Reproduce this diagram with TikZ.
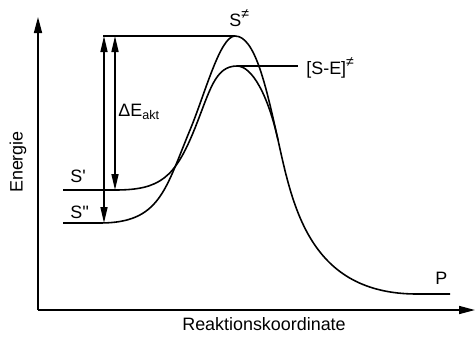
\documentclass[tikz,border=0pt]{standalone}
\usepackage{fontspec}
\setmainfont{Liberation Sans}
\usetikzlibrary{arrows.meta}

\newcommand{\trans}{\raisebox{0.75ex}{\fontsize{8}{8}\selectfont ≠}}

\begin{document}
\begin{tikzpicture}[
    x=0.02cm, y=0.02cm,
    every node/.style={font=\fontsize{10.2}{12}\selectfont},
    axis/.style={line width=0.9pt, -{Triangle[length=0.32cm, width=0.16cm]}},
    curve/.style={line width=0.9pt},
    dimline/.style={line width=0.9pt, {Triangle[length=0.32cm, width=0.14cm]}-{Triangle[length=0.32cm, width=0.14cm]}},
    lbl/.style={anchor=base west, inner sep=0pt},
]
    \useasboundingbox (0, 0) rectangle (475, 336);

    % axes
    \coordinate (origin) at (38, 26);
    \coordinate (ytop) at (38, 319);
    \coordinate (xend) at (475, 26);
    \draw[axis] (origin) -- (ytop);
    \draw[axis] (origin) -- (xend);
    \node[rotate=90] (energie) at (18, 174) {Energie};
    \node[anchor=base] (rk) at (264, 6) {Reaktionskoordinate};

    % levels
    \coordinate (s2left) at (63, 113);
    \coordinate (s2flat) at (100, 113);
    \coordinate (s1left) at (63, 146);
    \coordinate (s1flat) at (115, 146);
    \coordinate (tsleft) at (103, 300);
    \coordinate (tspeak) at (235, 300);
    \coordinate (sepeak) at (237, 270);
    \coordinate (seend) at (298, 270);
    \coordinate (join) at (278, 196);
    \coordinate (pflat) at (417, 42);
    \coordinate (pend) at (450, 42);

    % uncatalysed path S'' -> S≠ -> P
    \draw[curve] (s2left) -- (s2flat)
        .. controls (160, 113) and (165, 146) .. (190, 206)
        .. controls (205, 242) and (220, 300) .. (tspeak)
        .. controls (255, 300) and (266, 250) .. (join)
        .. controls (293, 128.5) and (310, 42) .. (pflat) -- (pend);

    % catalysed path S' -> [S-E]≠
    \draw[curve] (s1left) -- (s1flat)
        .. controls (160, 146) and (175, 158) .. (195, 208)
        .. controls (210, 245.5) and (215, 270) .. (sepeak)
        .. controls (252, 270) and (268, 241) .. (join);

    \draw[curve] (tsleft) -- (tspeak);
    \draw[curve] (sepeak) -- (seend);

    % activation energies
    \coordinate (a2top) at (104, 300);
    \coordinate (a2bot) at (104, 113);
    \coordinate (a1top) at (115, 300);
    \coordinate (a1bot) at (115, 146);
    \draw[dimline] (a2top) -- (a2bot);
    \draw[dimline] (a1top) -- (a1bot);

    % labels
    \node[lbl] (ts) at (229, 310) {S\trans};
    \node[lbl] (se) at (306, 262) {[S-E]\trans};
    \node[lbl] (dE) at (118, 220) {ΔE\textsubscript{akt}};
    \node[lbl] (s1) at (70, 154) {S\textquotesingle};
    \node[lbl] (s2) at (70, 118) {S\textquotesingle\textquotesingle};
    \node[lbl] (p) at (435, 52) {P};
\end{tikzpicture}
\end{document}
